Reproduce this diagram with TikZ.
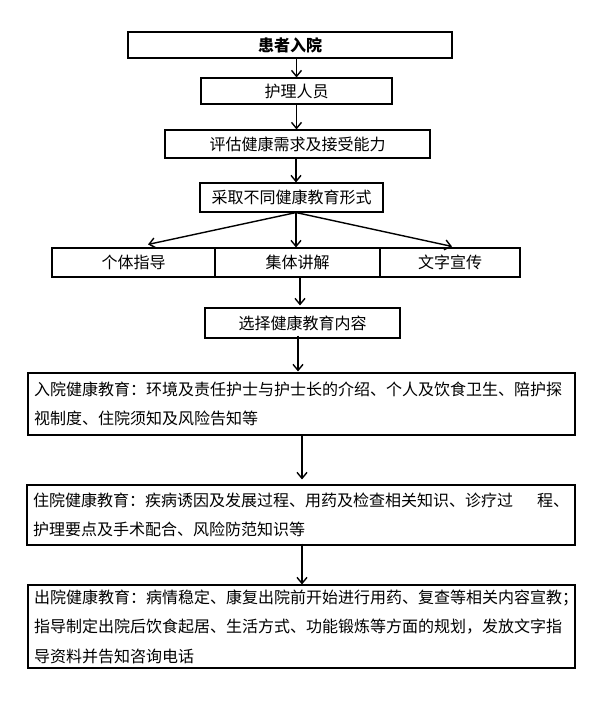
\documentclass[tikz,border=0pt]{standalone}
\usepackage{fontspec}
\newfontfamily\cjk{Noto Sans CJK SC}
\usetikzlibrary{arrows.meta,calc}
\begin{document}
\begin{tikzpicture}[x=1pt,y=-1pt,
  box/.style={draw=black,line width=1.1pt,inner sep=0pt,font=\cjk\fontsize{16}{19}\selectfont},
  bigbox/.style={draw=black,line width=1.1pt,inner xsep=6pt,inner ysep=0pt,align=left,font=\cjk\fontsize{16}{29.5}\selectfont},
  arr/.style={draw=black,line width=1.4pt,-{Straight Barb[length=6pt,width=10pt,line width=1.4pt]}}]
\useasboundingbox[fill=white] (0,0) rectangle (595,727);
\node[box,minimum width=324pt,minimum height=26pt] (b1) at (290,45) {\bfseries 患者入院};
\node[box,minimum width=191pt,minimum height=26pt] (b2) at (296.5,91) {护理人员};
\node[box,minimum width=265pt,minimum height=28pt] (b3) at (297.5,144) {评估健康需求及接受能力};
\node[box,minimum width=183pt,minimum height=29pt] (b4) at (291.5,197.5) {采取不同健康教育形式};
\node[box,minimum width=163pt,minimum height=29pt] (l) at (133.5,262.5) {个体指导};
\node[box,minimum width=165pt,minimum height=29pt] (m) at (297.5,262.5) {集体讲解};
\node[box,minimum width=140pt,minimum height=29pt] (r) at (450,262.5) {文字宣传};
\node[box,minimum width=195pt,minimum height=30pt] (b5) at (302.5,323) {选择健康教育内容};
\node[bigbox,text width=535pt,minimum height=62pt] (b6) at (301.5,404)
  {入院健康教育：环境及责任护士与护士长的介绍、个人及饮食卫生、陪护探\\视制度、住院须知及风险告知等};
\node[bigbox,text width=536pt,minimum height=60pt] (b7) at (301,515)
  {住院健康教育：疾病诱因及发展过程、用药及检查相关知识、诊疗过\hfill 程、\\护理要点及手术配合、风险防范知识等};
\node[bigbox,text width=535pt,minimum height=83pt] (b8) at (301.5,626.5)
  {出院健康教育：病情稳定、康复出院前开始进行用药、复查等相关内容宣教；\\指导制定出院后饮食起居、生活方式、功能锻炼等方面的规划，发放文字指\\导资料并告知咨询电话};
\draw[arr] (b1.south -| b2.north) -- (b2.north);
\draw[arr] (b2.south) -- (b2.south |- b3.north);
\draw[arr] ($(b3.south)+(-1.5,0)$) -- ($(b3.south |- b4.north)+(-1.5,0)$);
\draw[arr] ($(b4.south)+(4.5,0)$) -- ($(l.north)+(14.5,-3)$);
\draw[arr] ($(b4.south)+(4.5,0)$) -- ($(m.north)+(-1.5,0)$);
\draw[arr] ($(b4.south)+(4.5,0)$) -- ($(r.north)+(2,-1)$);
\draw[arr] ($(m.south)+(2.5,0)$) -- ($(b5.north)+(-2.5,-2)$);
\draw[arr] ($(b5.south)+(-4.5,-3)$) -- ($(b6.north)+(-3.5,-1)$);
\draw[arr] ($(b6.south)+(0.5,-1)$) -- ($(b7.north)+(1,-5)$);
\draw[arr] ($(b7.south)+(1,-2)$) -- ($(b8.north)+(0.5,0)$);
\end{tikzpicture}
\end{document}
